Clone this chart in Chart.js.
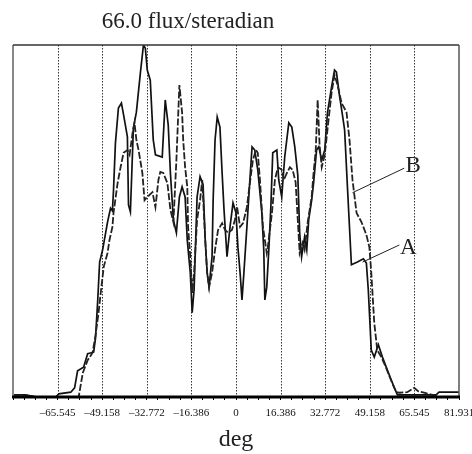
<!DOCTYPE html>
<html>
<head>
<meta charset="utf-8">
<script src="https://cdn.jsdelivr.net/npm/chart.js@4/dist/chart.umd.min.js"></script>
<style>
  html, body { margin: 0; padding: 0; background: #fff; }
  #wrap { width: 472px; height: 454px; }
</style>
</head>
<body>
<div id="wrap"><canvas id="c" width="472" height="454"></canvas></div>
<script>
const titleText = "66.0 flux/steradian";
const axisTitle = "deg";
const axisMin = -81.931;
const axisMax = 81.931;
const majorTicks = [-65.545, -49.158, -32.772, -16.386, 0, 16.386, 32.772, 49.158, 65.545, 81.931];
const tickLabels = ["\u201365.545", "\u201349.158", "\u201332.772", "\u201316.386", "0", "16.386", "32.772", "49.158", "65.545", "81.931"];
const fluxMax = 66.0;

const degA = [-81.9,-77.2,-73.5,-66.2,-65.1,-60.7,-59.3,-58.2,-56.0,-54.5,
  -52.3,-51.6,-50.8,-50.1,-49.0,-47.2,-46.1,-45.4,-45.0,-44.3,
  -43.2,-42.1,-41.3,-39.9,-39.5,-38.8,-37.7,-36.6,-35.1,-34.0,
  -33.3,-32.6,-31.5,-30.4,-29.6,-27.1,-26.0,-24.9,-24.1,-23.0,
  -21.9,-20.8,-19.8,-18.7,-17.9,-16.8,-16.1,-15.4,-14.3,-13.2,
  -12.1,-11.3,-10.6,-9.9,-8.8,-8.4,-7.7,-6.9,-5.9,-5.1,
  -4.4,-3.3,-2.2,-1.1,0,0.7,1.5,2.2,2.9,4.0,
  5.1,5.9,6.9,8.0,9.5,10.2,10.6,11.3,12.1,12.8,
  13.5,15.0,15.7,16.8,17.9,19.4,20.5,21.6,22.7,23.4,
  24.1,25.2,26.0,26.7,27.8,28.5,29.6,30.4,31.5,32.6,
  33.6,35.1,36.2,36.9,38.0,39.1,39.9,41.0,42.4,44.6,
  46.8,47.9,48.6,49.7,50.8,52.3,53.8,55.2,56.7,58.2,
  59.3,60.7,63.6,66.2,68.1,71.0,73.5,74.6,81.9];
const fluxA = [0.4,0.4,0,0,0.6,0.9,1.7,4.9,5.6,8.1,
  8.4,11.1,18.2,25.3,27.6,32.8,35.4,34.9,38.8,47.6,
  54.2,55.1,52.9,48.8,36.0,34.7,50.4,53.4,60.9,66.0,
  65.4,61.3,59.4,48.2,45.4,45.0,55.7,51.0,42.0,33.2,
  30.8,37.5,39.4,37.5,29.4,23.3,15.8,20.1,37.5,41.3,
  39.8,29.4,23.3,20.6,26.3,36.9,48.2,52.5,50.6,42.0,
  35.1,26.3,31.9,36.4,34.5,28.1,23.3,18.2,23.3,31.9,
  40.7,46.9,46.3,42.6,34.5,27.6,18.2,20.6,28.1,35.6,
  45.8,46.3,40.7,37.5,45.0,51.4,50.6,46.9,41.6,30.8,
  26.3,30.0,27.6,33.2,36.9,40.1,46.3,46.9,44.4,46.3,
  53.3,58.1,61.3,60.9,56.6,52.9,50.1,38.8,24.8,25.3,
  25.9,25.1,20.1,8.8,7.5,9.8,7.5,5.6,3.6,1.7,
  0.4,0.4,0.4,0.4,0.4,0.4,0.4,0.9,0.9];

const degB = [-81.9,-76.1,-73.5,-57.8,-56.3,-54.5,-52.7,-51.6,-50.5,-49.7,
  -48.6,-47.2,-46.5,-45.4,-45.0,-43.5,-42.4,-41.3,-39.9,-39.1,
  -38.0,-37.3,-36.6,-35.8,-34.4,-33.6,-32.6,-30.7,-29.6,-28.5,
  -27.8,-26.7,-25.2,-24.1,-23.0,-21.9,-20.8,-19.8,-19.4,-18.7,
  -17.9,-17.6,-16.8,-16.1,-15.4,-14.3,-13.2,-12.4,-12.1,-11.3,
  -10.6,-9.9,-8.8,-7.7,-6.6,-5.1,-4.0,-2.9,-1.5,-0.4,
  0.4,1.5,2.6,4.0,5.1,6.2,7.3,8.0,8.8,9.9,
  11.3,11.7,13.2,14.3,15.4,16.8,17.6,18.7,19.8,20.8,
  21.9,22.7,23.4,24.5,25.2,26.3,27.8,28.5,29.3,30.0,
  30.7,31.5,32.6,33.6,35.1,36.2,37.3,38.8,40.6,41.7,
  42.8,44.3,46.1,47.9,49.0,49.7,50.8,51.9,53.4,55.2,
  57.4,58.9,60.0,62.9,65.5,66.9,69.1,73.5,74.6,81.9];
const fluxB = [0.4,0.2,0,0,4.5,6.9,8.3,11.6,15.8,19.5,
  24.4,27.0,29.4,31.9,34.5,40.1,43.1,45.8,46.3,45.4,
  49.5,51.4,48.2,46.3,42.0,36.9,37.5,38.4,35.6,40.7,
  42.2,42.0,40.1,35.1,32.8,44.4,58.5,53.3,48.2,43.1,
  39.4,31.9,26.3,19.5,23.3,33.2,36.9,40.7,37.5,29.4,
  23.3,20.6,23.3,27.6,31.3,32.6,31.3,30.8,31.3,33.2,
  35.6,31.9,32.6,35.6,40.1,44.4,46.3,45.8,40.7,31.9,
  27.0,28.1,34.5,40.7,43.1,42.6,40.7,42.0,43.1,42.6,
  40.3,33.2,27.0,28.9,27.6,32.6,37.5,42.0,46.3,55.7,
  47.3,43.1,45.4,50.1,57.0,60.4,58.5,55.1,53.4,48.2,
  40.7,34.5,32.8,30.4,28.1,23.3,13.9,8.8,7.5,5.4,
  2.6,0.9,0.8,0.9,1.7,1.1,0.8,0.2,0,0];

// series labels with leader lines, in data units: [labelDeg, labelFlux, fromDeg, fromFlux, toDeg, toFlux]
const seriesNames = ["A", "B"];
const labelAnchors = [
  [63.3, 27.9, 60.0, 28.5, 46.5, 25.3],
  [65.1, 43.3, 61.8, 42.9, 42.8, 38.3]
];

function pairs(xs, ys) { return xs.map((x, i) => ({ x: x, y: ys[i] })); }

// tick marks: each major interval split in quarters (left edge included)
const allTicks = [];
for (let i = 0; i <= 40; i++) allTicks.push(axisMin + i * (axisMax - axisMin) / 40);

const serif = "'Liberation Serif', 'DejaVu Serif', serif";

const decorPlugin = {
  id: 'decor',
  beforeDatasetsDraw(chart) {
    const { ctx, chartArea: a, scales } = chart;
    ctx.save();
    ctx.strokeStyle = '#333';
    ctx.lineWidth = 1;
    ctx.setLineDash([1.5, 1.5]);
    majorTicks.forEach(v => {
      if (v >= axisMax) return;
      const x = Math.round(scales.x.getPixelForValue(v)) + 0.5;
      ctx.beginPath(); ctx.moveTo(x, a.top); ctx.lineTo(x, a.bottom); ctx.stroke();
    });
    ctx.restore();
  },
  afterDatasetsDraw(chart) {
    const { ctx, chartArea: a, scales } = chart;
    ctx.save();
    ctx.setLineDash([]);
    ctx.strokeStyle = '#888'; ctx.lineWidth = 2;
    ctx.beginPath(); ctx.moveTo(a.left, a.top); ctx.lineTo(a.left, a.bottom); ctx.stroke();
    ctx.strokeStyle = '#333'; ctx.lineWidth = 1.5;
    ctx.beginPath(); ctx.moveTo(a.left, a.top); ctx.lineTo(a.right, a.top); ctx.stroke();
    ctx.strokeStyle = '#555'; ctx.lineWidth = 1.5;
    ctx.beginPath(); ctx.moveTo(a.right, a.top); ctx.lineTo(a.right, a.bottom); ctx.stroke();
    ctx.strokeStyle = '#000'; ctx.lineWidth = 3;
    ctx.beginPath(); ctx.moveTo(a.left - 1, a.bottom); ctx.lineTo(a.right + 1, a.bottom); ctx.stroke();
    // series labels with leader lines
    ctx.fillStyle = '#222';
    ctx.font = "23px " + serif;
    ctx.textAlign = 'center';
    ctx.textBaseline = 'middle';
    ctx.strokeStyle = '#222';
    ctx.lineWidth = 1;
    const px = v => scales.x.getPixelForValue(v);
    const py = v => scales.y.getPixelForValue(v);
    labelAnchors.forEach((p, i) => {
      ctx.beginPath(); ctx.moveTo(px(p[2]), py(p[3])); ctx.lineTo(px(p[4]), py(p[5])); ctx.stroke();
      ctx.fillText(seriesNames[i], px(p[0]), py(p[1]));
    });
    // title
    ctx.font = "23px " + serif;
    ctx.fillStyle = '#222';
    ctx.textAlign = 'center';
    ctx.fillText(titleText, a.left + 175, 22);
    ctx.restore();
  }
};

new Chart(document.getElementById('c'), {
  type: 'scatter',
  data: {
    datasets: [
      {
        label: 'B',
        data: pairs(degB, fluxB),
        showLine: true,
        borderColor: '#222',
        borderWidth: 1.8,
        borderDash: [7, 2],
        pointRadius: 0,
        tension: 0
      },
      {
        label: 'A',
        data: pairs(degA, fluxA),
        showLine: true,
        borderColor: '#111',
        borderWidth: 1.7,
        pointRadius: 0,
        tension: 0
      }
    ]
  },
  plugins: [decorPlugin],
  options: {
    responsive: false,
    animation: false,
    devicePixelRatio: 1,
    layout: { padding: { left: 13, right: 13, top: 45, bottom: 0 } },
    plugins: { legend: { display: false }, tooltip: { enabled: false }, title: { display: false } },
    scales: {
      x: {
        type: 'linear',
        min: axisMin,
        max: axisMax,
        afterBuildTicks(scale) { scale.ticks = allTicks.map(v => ({ value: v })); },
        afterFit(scale) { scale.height = 57; scale.paddingLeft = 0; scale.paddingRight = 0; },
        border: { display: false },
        grid: {
          display: true,
          drawOnChartArea: false,
          drawTicks: true,
          tickLength: 3,
          tickColor: '#000',
          tickWidth: 1
        },
        ticks: {
          autoSkip: false,
          maxRotation: 0,
          minRotation: 0,
          padding: 7,
          color: '#111',
          font: { family: serif, size: 11 },
          callback(value) {
            const k = majorTicks.findIndex(m => Math.abs(m - value) < 0.05);
            return k >= 0 ? tickLabels[k] : '';
          }
        },
        title: {
          display: true,
          text: axisTitle,
          color: '#222',
          font: { family: serif, size: 24 },
          padding: { top: 0, bottom: 0 }
        }
      },
      y: {
        display: false,
        min: 0,
        max: fluxMax
      }
    }
  }
});
</script>
</body>
</html>
